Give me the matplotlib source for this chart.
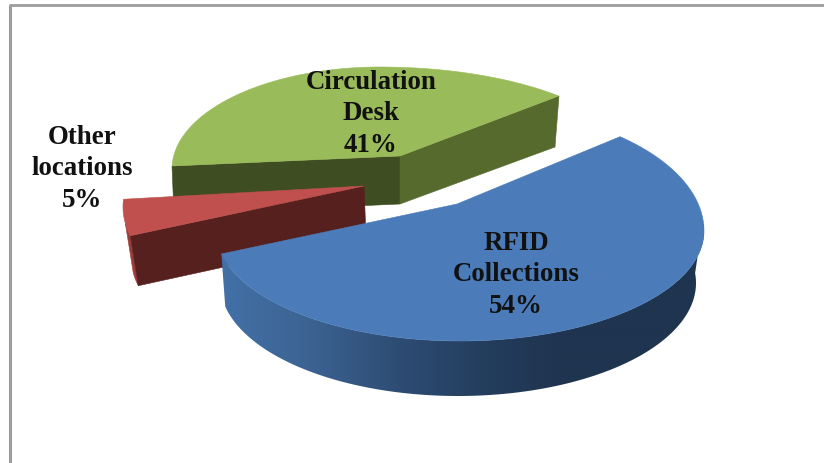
import numpy as np
import matplotlib
matplotlib.use("Agg")
import matplotlib.pyplot as plt
from matplotlib.patches import Polygon
from matplotlib.colors import to_rgb

# Share of items per location
names = ["RFID\nCollections", "Other\nlocations", "Circulation\nDesk"]
values = [54, 5, 41]

top_colors = ["#4b7cb9", "#c0504d", "#9abb59"]

# Colour of the blue rim, left to right
rim_x = [220, 300, 400, 480, 560, 700]
rim_colors = ["#4270a8", "#3d6594", "#2d4c73", "#243e5f", "#1f344f", "#1e3450"]


def ring(c, t):
    """Points of the lopsided ellipse c at angles t (degrees, clockwise on screen)."""
    t = np.radians(t)
    cs, sn = np.cos(t), np.sin(t)
    x = c["cx"] + cs * np.where(cs < 0, c["rl"], c["rr"])
    y = c["cy"] + sn * np.where(sn < 0, c["rb"], c["rf"])
    return x, y


def face(ax, xs, ys, color, z):
    p = Polygon(np.column_stack([xs, ys]), closed=True, fc=color, ec=color, lw=0.4, zorder=z)
    ax.add_patch(p)
    return p


def sweep(value, start, stretch):
    return np.linspace(start, start + value * 3.6 * stretch, 200)


fig = plt.figure(figsize=(8.24, 4.64), dpi=100)
ax = fig.add_axes([0, 0, 1, 1])
ax.axis("off")

# page frame
ax.plot([10, 10], [464, 6], color="#9c9c9c", lw=2.2, solid_capstyle="butt")
ax.plot([9, 824], [6, 6], color="#9c9c9c", lw=2.0, solid_capstyle="butt")

# green slice
top = dict(cx=380, cy=170, rl=208, rr=256, rb=102, rf=102)
t = sweep(values[2], 181.7, 0.898)
ax_x, ax_y = ring(top, t)
apex = (400, 157)
face(ax, [apex[0], 172, 174, 400], [apex[1], 167, 215, 205], "#3f4d22", 1)
face(ax, [apex[0], 559, 555, 400], [apex[1], 97, 148, 205], "#566a2e", 1)
face(ax, np.r_[apex[0], ax_x], np.r_[apex[1], ax_y], top_colors[2], 2)

# red slice
top = dict(cx=363, cy=208, rl=240, rr=240, rb=117, rf=117)
low = dict(cx=371, cy=258, rl=240, rr=240, rb=117, rf=117)
t = sweep(values[1], 165.8, 1.0)
ax_x, ax_y = ring(top, t)
low_x, low_y = ring(low, t)
apex = (364, 187)
# only the near end of the outer wall shows
part = t < 172
face(ax, np.r_[ax_x[part], low_x[part][::-1]], np.r_[ax_y[part], low_y[part][::-1]], "#9a3c39", 3)
face(ax, [apex[0], ax_x[0], low_x[0], 366], [apex[1], ax_y[0], low_y[0], 237], "#55201e", 4)
face(ax, np.r_[apex[0], ax_x], np.r_[apex[1], ax_y], top_colors[1], 5)

# blue slice, rim shaded with a gradient clipped to the wall
top = dict(cx=460, cy=232, rl=244, rr=244, rb=125, rf=110)
low = dict(cx=458, cy=284, rl=238, rr=238, rb=113, rf=113)
t = sweep(values[0], -49, 1.116)
ax_x, ax_y = ring(top, t)
apex = (457, 205)
rim_t = np.linspace(-5, t[-1], 260)
rx, ry = ring(top, rim_t)
lx, ly = ring(low, rim_t)
wall = face(ax, np.r_[rx, lx[::-1]], np.r_[ry, ly[::-1]], "none", 6)
xs = np.arange(215, 710)
stops = np.array([to_rgb(c) for c in rim_colors])
shade = np.stack([np.interp(xs, rim_x, stops[:, k]) for k in range(3)], axis=-1)[None, :, :]
im = ax.imshow(shade, extent=(215, 710, 405, 225), aspect="auto", interpolation="bilinear", zorder=6)
im.set_clip_path(wall)
face(ax, np.r_[apex[0], ax_x], np.r_[apex[1], ax_y], top_colors[0], 7)

# labels
label_pos = [(516, 275), (82, 169), (371, 114)]
for name, val, (lx_, ly_) in zip(names, values, label_pos):
    ax.text(lx_, ly_, f"{name}\n{val}%", ha="center", va="center", multialignment="center",
            family="Liberation Serif", fontweight="bold", fontsize=19.4, linespacing=1.35,
            color="#111111", zorder=10)

ax.set_xlim(0, 824)
ax.set_ylim(464, 0)
fig.savefig("out.png", dpi=100)
